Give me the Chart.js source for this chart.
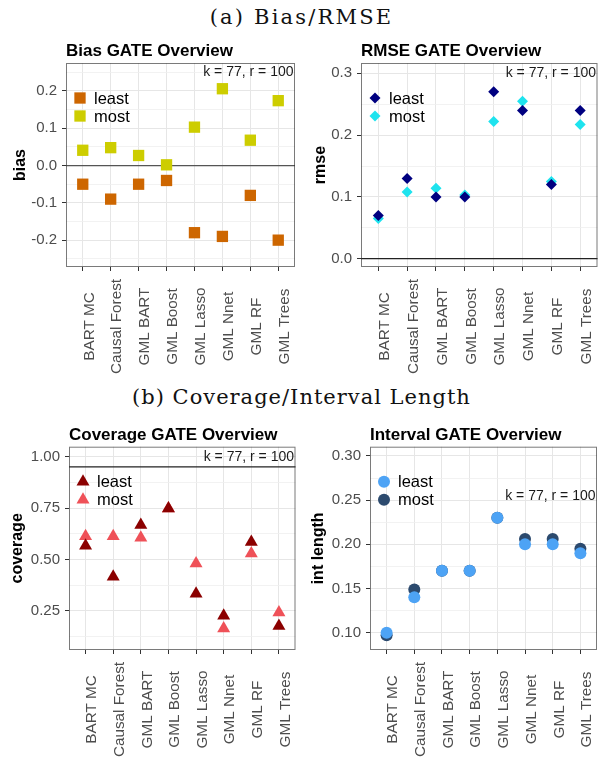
<!DOCTYPE html>
<html>
<head>
<meta charset="utf-8">
<script src="https://cdn.jsdelivr.net/npm/chart.js@4.4.0/dist/chart.umd.min.js"></script>
<style>
  body { margin: 0; background: #fff; width: 603px; height: 760px; position: relative; overflow: hidden; }
  .cap { position: absolute; left: 0; width: 603px; text-align: center; font-family: "DejaVu Serif", serif;
         font-size: 21px; line-height: 21px; color: #111; letter-spacing: 1px; white-space: nowrap; }
  canvas { position: absolute; }
</style>
</head>
<body>
<div class="cap" style="top:7px;letter-spacing:2.2px">(a) Bias/RMSE</div>
<div class="cap" style="top:387px">(b) Coverage/Interval Length</div>
<script>
// methods on the x axis
const methods = ["BART MC", "Causal Forest", "GML BART", "GML Boost", "GML Lasso", "GML Nnet", "GML RF", "GML Trees"];
const groups = ["least", "most"];

const biasLeast = [-0.05, -0.09, -0.05, -0.04, -0.18, -0.19, -0.08, -0.20];
const biasMost = [0.041, 0.048, 0.027, 0.002, 0.103, 0.206, 0.068, 0.174];
const rmseLeast = [0.070, 0.130, 0.100, 0.100, 0.270, 0.240, 0.120, 0.240];
const rmseMost = [0.065, 0.108, 0.114, 0.103, 0.222, 0.255, 0.125, 0.217];
const coverageLeast = [0.566, 0.415, 0.667, 0.748, 0.333, 0.225, 0.585, 0.176];
const coverageMost = [0.613, 0.613, 0.605, 0.748, 0.480, 0.163, 0.528, 0.241];
const intervalLeast = [0.100, 0.140, 0.170, 0.170, 0.230, 0.200, 0.200, 0.190];
const intervalMost = [0.097, 0.149, 0.170, 0.170, 0.230, 0.206, 0.206, 0.195];

// y tick labels
const biasTicks = ["-0.2", "-0.1", "0.0", "0.1", "0.2"];
const rmseTicks = ["0.0", "0.1", "0.2", "0.3"];
const coverageTicks = ["0.25", "0.50", "0.75", "1.00"];
const intervalTicks = ["0.10", "0.15", "0.20", "0.25", "0.30"];

const noteText = "k = 77, r = 100";
const sans = "'Liberation Sans', Arial, sans-serif";

const panels = [
  { least: biasLeast, most: biasMost, ticks: biasTicks, min: -0.272, max: 0.275,
    shape: "rect", radius: 8, colors: ["#CD6600", "#CDCD00"],
    title: "Bias GATE Overview", yTitle: "bias", hline: 0, hlineColor: "#555", noteY: 0.25,
    box: { left: 0, top: 30, w: 303, h: 360 }, area: { left: 66, top: 33, bottom: 237, right: 0.5 }, yTitleX: 24.5 },
  { least: rmseLeast, most: rmseMost, ticks: rmseTicks, min: -0.0134, max: 0.3167,
    shape: "rectRot", radius: 5.5, colors: ["#000080", "#1EE3EE"],
    title: "RMSE GATE Overview", yTitle: "rmse", hline: 0, hlineColor: "#222", noteY: 0.3,
    box: { left: 302, top: 30, w: 301, h: 360 }, area: { left: 59, top: 33, bottom: 237, right: 0 }, yTitleX: 23 },
  { least: coverageLeast, most: coverageMost, ticks: coverageTicks, min: 0.0586, max: 1.0487,
    shape: "triangle", radius: 7.5, colors: ["#8B0000", "#EF5158"],
    title: "Coverage GATE Overview", yTitle: "coverage", hline: 0.95, hlineColor: "#222", noteY: 1.0,
    box: { left: 0, top: 412, w: 303, h: 348 }, area: { left: 69, top: 34.7, bottom: 238, right: 0.5 }, yTitleX: 22 },
  { least: intervalLeast, most: intervalMost, ticks: intervalTicks, min: 0.0804, max: 0.3105,
    shape: "circle", radius: 6, colors: ["#4DA3F5", "#2C4A6E"],
    title: "Interval GATE Overview", yTitle: "int length", hline: null, noteY: 0.254,
    box: { left: 302, top: 412, w: 301, h: 348 }, area: { left: 68, top: 34.7, bottom: 238, right: 0 }, yTitleX: 21 }
];

// titles, legend, labels and reference lines
const decor = {
  id: "decor",
  beforeDatasetsDraw(chart) {
    const p = chart.options.panel;
    if (p.hline === null) return;
    const { ctx, chartArea: a } = chart;
    const y = chart.scales.y.getPixelForValue(p.hline);
    ctx.save();
    ctx.strokeStyle = p.hlineColor;
    ctx.lineWidth = 1.3;
    ctx.beginPath();
    ctx.moveTo(a.left, y);
    ctx.lineTo(a.right, y);
    ctx.stroke();
    ctx.restore();
  },
  afterDraw(chart) {
    const p = chart.options.panel;
    const { ctx, chartArea: a } = chart;
    const xs = chart.scales.x, ys = chart.scales.y;
    ctx.save();

    // panel border
    ctx.strokeStyle = "rgba(51,51,51,0.65)";
    ctx.lineWidth = 1;
    ctx.strokeRect(a.left + 0.5, a.top + 0.5, a.right - a.left - 1, a.bottom - a.top - 1);

    // title
    ctx.fillStyle = "#000";
    ctx.font = "bold 17px " + sans;
    ctx.textAlign = "left";
    ctx.textBaseline = "alphabetic";
    ctx.fillText(p.title, a.left, a.top - 7);

    // y axis title
    ctx.save();
    ctx.translate(p.yTitleX, (a.top + a.bottom) / 2);
    ctx.rotate(-Math.PI / 2);
    ctx.textAlign = "center";
    ctx.font = "bold 16px " + sans;
    ctx.fillText(p.yTitle, 0, 0);
    ctx.restore();

    // x labels, rotated
    ctx.font = "15.3px " + sans;
    ctx.fillStyle = "#4D4D4D";
    methods.forEach((m, i) => {
      const x = xs.getPixelForValue(i);
      ctx.save();
      ctx.translate(x + 10.8, a.bottom + 59.5);
      ctx.rotate(-Math.PI / 2);
      ctx.textAlign = "center";
      ctx.textBaseline = "alphabetic";
      ctx.fillText(m, 0, 0);
      ctx.restore();
    });

    // note
    ctx.font = "14px " + sans;
    ctx.fillStyle = "#1A1A1A";
    ctx.textAlign = "right";
    ctx.textBaseline = "middle";
    ctx.fillText(noteText, a.right - 1.5, ys.getPixelForValue(p.noteY));

    // legend
    groups.forEach((g, k) => {
      const lx = a.left + 14, ly = a.top + 35 + k * 18;
      ctx.fillStyle = p.colors[k];
      Chart.helpers.drawPoint(ctx, { pointStyle: p.shape, radius: p.radius, borderWidth: 0, rotation: 0 }, lx, ly);
      ctx.fillStyle = "#000";
      ctx.font = "16.5px " + sans;
      ctx.textAlign = "left";
      ctx.textBaseline = "middle";
      ctx.fillText(g, lx + 14, ly + 1);
    });
    ctx.restore();
  }
};

panels.forEach(p => {
  const canvas = document.createElement("canvas");
  canvas.width = p.box.w;
  canvas.height = p.box.h;
  canvas.style.left = p.box.left + "px";
  canvas.style.top = p.box.top + "px";
  document.body.appendChild(canvas);

  // major ticks carry labels, minor ones sit halfway between
  const major = p.ticks.map(Number);
  const step = major[1] - major[0];
  const yTicks = [];
  for (let k = -1; k < major.length; k++) {
    if (k >= 0) yTicks.push({ value: major[k], label: p.ticks[k], major: true });
    const m = major[0] + (k + 0.5) * step;
    if (m > p.min && m < p.max) yTicks.push({ value: m, label: "", major: false });
  }
  yTicks.sort((a, b) => a.value - b.value);

  const makeSet = (vals, k) => ({
    label: groups[k],
    data: vals.map((v, i) => ({ x: i, y: v })),
    pointStyle: p.shape,
    pointRadius: p.radius,
    pointHoverRadius: p.radius,
    backgroundColor: p.colors[k],
    borderWidth: 0
  });

  new Chart(canvas, {
    type: "scatter",
    data: { datasets: [makeSet(p.least, 0), makeSet(p.most, 1)] },
    options: {
      panel: p,
      responsive: false,
      animation: false,
      layout: { padding: { top: p.area.top, right: p.area.right, left: 0, bottom: 0 } },
      plugins: { legend: { display: false }, tooltip: { enabled: false } },
      scales: {
        x: {
          type: "linear",
          min: -0.6,
          max: methods.length - 0.4,
          afterBuildTicks: s => { s.ticks = methods.map((m, i) => ({ value: i })); },
          ticks: { display: false, autoSkip: false },
          grid: { color: "#E6E6E6", lineWidth: 1, tickLength: 4, tickColor: "#333" },
          border: { display: false },
          afterFit: s => { s.height = p.box.h - p.area.bottom; }
        },
        y: {
          min: p.min,
          max: p.max,
          afterBuildTicks: s => { s.ticks = yTicks.map(t => ({ value: t.value })); },
          ticks: {
            autoSkip: false,
            callback: (v, i) => yTicks[i].label,
            font: { family: sans, size: 15 },
            color: "#4D4D4D",
            padding: 5
          },
          grid: {
            color: c => (yTicks[c.index] && yTicks[c.index].major ? "#E6E6E6" : "#EFEFEF"),
            lineWidth: c => (yTicks[c.index] && yTicks[c.index].major ? 1 : 0.8),
            tickColor: c => (yTicks[c.index] && yTicks[c.index].major ? "#333" : "rgba(0,0,0,0)"),
            tickLength: 4
          },
          border: { display: false },
          afterFit: s => { s.width = p.area.left; }
        }
      }
    },
    plugins: [decor]
  });
});
</script>
</body>
</html>
